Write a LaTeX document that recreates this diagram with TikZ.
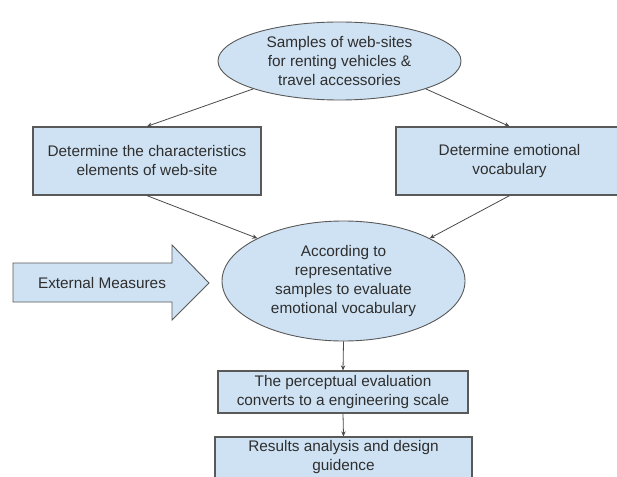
\documentclass[tikz,border=0pt]{standalone}
\usepackage{fontspec}
\setmainfont{Liberation Sans}
\usetikzlibrary{shapes.geometric,arrows.meta}
\definecolor{fillblue}{HTML}{CFE2F3}
\definecolor{edgegray}{HTML}{595959}
\definecolor{textgray}{HTML}{2E2E2E}
\definecolor{linegray}{HTML}{4A4A4A}
\begin{document}
\begin{tikzpicture}[x=1pt,y=-1pt,
  lbl/.style={text=textgray, align=center, font=\fontsize{15.35}{19}\selectfont, inner sep=0pt},
  boxnode/.style={lbl, draw=edgegray, line width=1.3pt, fill=fillblue},
  ellnode/.style={lbl, ellipse, draw=edgegray, line width=0.9pt, fill=fillblue},
  conn/.style={draw=linegray, line width=0.8pt, -{Stealth[length=5pt,width=4.5pt]}},
  blockarrow/.style={draw=edgegray, line width=0.9pt, fill=fillblue}]
\clip (0,0) rectangle (617,476);
\fill[white] (0,0) rectangle (617,476);
% nodes
\node[ellnode, minimum width=243pt, minimum height=78pt] (top) at (339.5,61)
  {Samples of web-sites\\for renting vehicles \&\\travel accessories};
\node[boxnode, minimum width=228pt, minimum height=68pt] (left) at (147,161)
  {Determine the characteristics\\elements of web-site};
\node[boxnode, minimum width=227pt, minimum height=68pt] (right) at (509.5,161)
  {Determine emotional\\vocabulary};
\node[ellnode, minimum width=243pt, minimum height=120pt] (mid) at (343.5,281)
  {According to\\representative\\samples to evaluate\\emotional vocabulary};
\node[boxnode, minimum width=250pt, minimum height=42pt] (conv) at (343,392)
  {The perceptual evaluation\\converts to a engineering scale};
\node[boxnode, minimum width=257pt, minimum height=41pt] (res) at (343.5,457.5)
  {Results analysis and design\\guidence};
% block arrow
\draw[blockarrow] (13,263) -- (172,263) -- (172,245) -- (209,283) -- (172,320)
  -- (172,302) -- (13,302) -- cycle;
\node[lbl] (ext) at (102,283) {External Measures};
% connectors
\draw[conn] (top.south west) -- (left.north);
\draw[conn] (top.south east) -- (right.north);
\draw[conn] (left.south) -- (mid.north west);
\draw[conn] (right.south) -- (mid.north east);
\draw[conn] (mid.south) -- (conv.north);
\draw[conn] (conv.south) -- (res.north);
\end{tikzpicture}
\end{document}
